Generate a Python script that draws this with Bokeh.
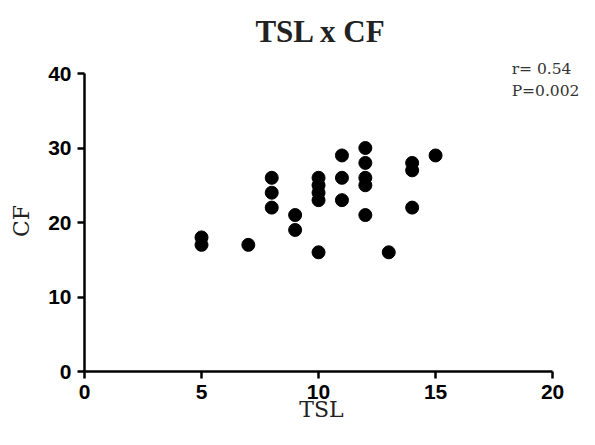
from bokeh.plotting import figure
from bokeh.models import Range1d, Label, FixedTicker
from bokeh.embed import file_html
from bokeh.resources import INLINE

tsl = [5, 5, 7, 8, 8, 8, 9, 9, 10, 10, 10, 10, 10, 11, 11, 11,
       12, 12, 12, 12, 12, 13, 14, 14, 14, 15]
cf = [18, 17, 17, 26, 24, 22, 21, 19, 26, 25, 24, 23, 16, 29, 26, 23,
      30, 28, 26, 25, 21, 16, 28, 27, 22, 29]
x_ticks = [0, 5, 10, 15, 20]
y_ticks = [0, 10, 20, 30, 40]

NB = "\u00a0"

p = figure(width=579, height=429, output_backend="svg", toolbar_location=None,
           x_range=Range1d(0, 21.15), y_range=Range1d(0, 48.86),
           min_border_left=84, min_border_right=0, min_border_top=7,
           min_border_bottom=58)

p.grid.visible = False
p.outline_line_color = None

p.scatter(tsl, cf, size=13, color="black")

for ax in (p.xaxis[0], p.yaxis[0]):
    ax.axis_line_width = 2.5
    ax.major_tick_line_width = 2.5
    ax.major_tick_in = 0
    ax.major_tick_out = 7
    ax.minor_tick_line_color = None
    ax.major_label_text_font = "Liberation Sans"
    ax.major_label_text_font_style = "bold"
    ax.major_label_text_font_size = "21px"
    ax.major_label_text_color = "black"
    ax.axis_label_text_font = "DejaVu Serif"
    ax.axis_label_text_font_style = "normal"
    ax.axis_label_text_font_size = "22px"
    ax.axis_label_text_color = "#222222"

p.xaxis.ticker = FixedTicker(ticks=x_ticks)
p.yaxis.ticker = FixedTicker(ticks=y_ticks)
p.xaxis.bounds = (0, 20)
p.yaxis.bounds = (0, 40)
p.xaxis.axis_label = "TSL" + NB * 3
p.yaxis.axis_label = "CF" + NB * 9
p.xaxis.major_label_standoff = 6
p.yaxis.major_label_standoff = 6
p.xaxis.axis_label_standoff = -5
p.yaxis.axis_label_standoff = 11

p.add_layout(Label(x=10.1, y=45.6, text="TSL x CF", text_font="Liberation Serif",
                   text_font_size="31px", text_font_style="bold",
                   text_align="center", text_baseline="alphabetic",
                   text_color="#222222"))
p.add_layout(Label(x=18.25, y=40.67, text="r= 0.54", text_font="DejaVu Serif",
                   text_font_size="15.5px", text_baseline="alphabetic",
                   text_color="#333333"))
p.add_layout(Label(x=18.25, y=37.7, text="P=0.002", text_font="DejaVu Serif",
                   text_font_size="15.5px", text_baseline="alphabetic",
                   text_color="#333333"))

open("out.html", "w").write(file_html(p, INLINE))
